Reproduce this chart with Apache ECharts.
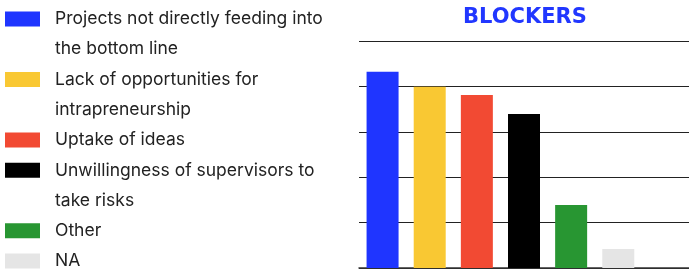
<!DOCTYPE html>
<html>
<head>
<meta charset="utf-8">
<script src="https://cdn.jsdelivr.net/npm/echarts@6/dist/echarts.min.js"></script>
<style>
  html, body { margin: 0; padding: 0; background: #fff; }
  #chart { width: 689px; height: 270px; }
</style>
</head>
<body>
<div id="chart"></div>
<script>
// blockers chart data
var names = [
  'Projects not directly feeding into\nthe bottom line',
  'Lack of opportunities for\nintrapreneurship',
  'Uptake of ideas',
  'Unwillingness of supervisors to\ntake risks',
  'Other',
  'NA'
];
var values = [43.2, 39.9, 38.1, 33.9, 13.9, 4.2];
var colors = ['#1f35ff', '#f9c833', '#f24a33', '#000000', '#289632', '#e5e5e5'];
var cats = ['B1', 'B2', 'B3', 'B4', 'B5', 'B6', ''];

var chart = echarts.init(document.getElementById('chart'));

var series = names.map(function (n, i) {
  var d = cats.map(function (c, j) { return j === i ? values[i] : '-'; });
  return {
    name: n,
    type: 'bar',
    stack: 'all',
    barWidth: 32,
    data: d,
    itemStyle: { color: colors[i] },
    emphasis: { disabled: true }
  };
});

// one legend per entry so the swatch sits on the first text line
var lineH = 30.25;
var line = 0;
var legends = names.map(function (n) {
  var twoLines = n.indexOf('\n') >= 0;
  var c = 19 + line * lineH;
  line += twoLines ? 2 : 1;
  return {
    orient: 'vertical',
    left: 5,
    top: c - 15,
    padding: 0,
    itemWidth: 35,
    itemHeight: twoLines ? 45 : 15,
    icon: twoLines ? 'path://M0,0H35V15H0Z M0,45' : 'rect',
    selectedMode: false,
    textStyle: { fontSize: 17.5, lineHeight: 30, color: '#222', fontFamily: 'Inter', padding: [0, 0, 0, 10] },
    data: [n]
  };
});

var option = {
  animation: false,
  title: {
    text: 'BLOCKERS',
    left: 525,
    textAlign: 'center',
    top: 7,
    padding: 0,
    textStyle: { color: '#2137ff', fontSize: 21, fontWeight: 'bold', fontFamily: 'DejaVu Sans' }
  },
  legend: legends,
  grid: { left: 359, width: 335, top: 41, bottom: 2, containLabel: false },
  xAxis: {
    type: 'category',
    data: cats,
    axisLine: { show: true, lineStyle: { color: '#333', width: 1.5 } },
    axisTick: { show: false },
    axisLabel: { show: false }
  },
  yAxis: {
    type: 'value',
    min: 0,
    max: 50,
    interval: 10,
    axisLabel: { show: false },
    axisLine: { show: false },
    axisTick: { show: false },
    splitLine: { lineStyle: { color: '#222', width: 1 } }
  },
  series: series
};
chart.setOption(option);
</script>
</body>
</html>
